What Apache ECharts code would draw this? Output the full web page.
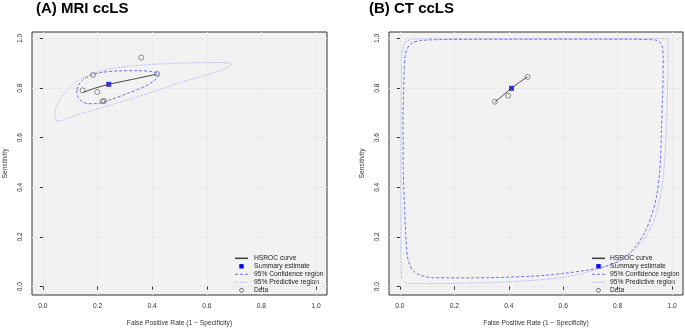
<!DOCTYPE html>
<html><head><meta charset="utf-8">
<script src="https://cdn.jsdelivr.net/npm/echarts@6/dist/echarts.min.js"></script>
<style>html,body{margin:0;padding:0;background:#fff}#c{width:685px;height:332px}</style>
</head><body><div id="c"></div>
<script>
const tickValues = [0, 0.2, 0.4, 0.6, 0.8, 1.0];
const panelTitles = ['(A) MRI ccLS', '(B) CT ccLS'];
const xAxisName = 'False Positive Rate (1 \u2212 Specificity)';
const yAxisName = 'Sensitivity';
const legendLabels = ['HSROC curve', 'Summary estimate', '95% Confidence region', '95% Predictive region', 'Data'];

// Panel A: MRI ccLS  [FPR, sensitivity]
const mriData = [[0.360,0.923],[0.183,0.853],[0.418,0.857],[0.145,0.791],[0.199,0.784],[0.218,0.747],[0.224,0.748]];
const mriSummary = [[0.241,0.815]];
const mriCurve = [[0.148,0.783],[0.189,0.799],[0.241,0.815],[0.323,0.834],[0.418,0.856]];
const mriConf = [[0.124,0.792],[0.130,0.812],[0.145,0.832],[0.177,0.852],[0.214,0.863],[0.274,0.869],[0.347,0.870],[0.396,0.867],[0.418,0.861],[0.423,0.852],[0.409,0.832],[0.372,0.806],[0.311,0.779],[0.250,0.754],[0.201,0.738],[0.165,0.737],[0.138,0.750],[0.126,0.770],[0.124,0.792]];
const mriPred = [[0.052,0.668],[0.044,0.685],[0.046,0.712],[0.061,0.752],[0.092,0.795],[0.128,0.830],[0.189,0.860],[0.250,0.878],[0.323,0.889],[0.409,0.896],[0.494,0.900],[0.573,0.902],[0.640,0.903],[0.680,0.901],[0.690,0.893],[0.670,0.880],[0.646,0.870],[0.573,0.845],[0.494,0.819],[0.409,0.787],[0.311,0.753],[0.226,0.725],[0.153,0.701],[0.092,0.680],[0.062,0.668],[0.052,0.668]];

// Panel B: CT ccLS
const ctData = [[0.349,0.745],[0.398,0.769],[0.469,0.845]];
const ctSummary = [[0.410,0.799]];
const ctCurve = [[0.349,0.743],[0.380,0.772],[0.410,0.799],[0.440,0.824],[0.469,0.845]];
const ctConf = [[0.016,0.880],[0.020,0.935],[0.030,0.965],[0.045,0.982],[0.080,0.992],[0.190,0.996],[0.500,0.997],[0.850,0.997],[0.935,0.994],[0.955,0.985],[0.964,0.965],[0.967,0.930],[0.967,0.850],[0.964,0.750],[0.961,0.632],[0.955,0.472],[0.943,0.365],[0.924,0.285],[0.900,0.219],[0.869,0.165],[0.820,0.112],[0.759,0.083],[0.700,0.068],[0.600,0.053],[0.533,0.045],[0.398,0.038],[0.250,0.035],[0.116,0.036],[0.075,0.046],[0.050,0.062],[0.037,0.085],[0.028,0.120],[0.022,0.200],[0.016,0.350],[0.012,0.500],[0.012,0.700],[0.014,0.800],[0.016,0.880]];
const ctPred = [[0.006,0.900],[0.009,0.950],[0.016,0.978],[0.030,0.992],[0.070,0.998],[0.300,0.999],[0.700,0.999],[0.985,0.999],[0.985,0.950],[0.984,0.850],[0.982,0.750],[0.979,0.632],[0.970,0.472],[0.957,0.365],[0.935,0.272],[0.905,0.205],[0.860,0.145],[0.800,0.100],[0.720,0.068],[0.640,0.045],[0.533,0.029],[0.398,0.019],[0.200,0.013],[0.040,0.012],[0.020,0.016],[0.010,0.026],[0.006,0.050],[0.004,0.150],[0.004,0.400],[0.005,0.700],[0.006,0.900]];

const FONT = '"Liberation Sans", Arial, Helvetica, sans-serif';
const COL_CURVE = '#444444', COL_SUM = '#0000ff', COL_CONF = '#6f6ff2', COL_PRED = '#a0a0ff', COL_DATA = '#555555';
const DASH_CONF = [3, 2], DASH_PRED = [1, 1.5];
const GRID_LINE = { type: 'dotted', color: '#e3e3e3', width: 1 };

function xAxisCfg(i) {
  return {
    type: 'value', gridIndex: i, min: -0.04, max: 1.04,
    axisLine: { show: false },
    axisTick: { show: true, length: 3, customValues: tickValues, lineStyle: { color: '#333' } },
    axisLabel: { customValues: tickValues, formatter: v => v.toFixed(1), fontSize: 6.7, fontFamily: FONT, color: '#333', margin: 8 },
    splitLine: { show: true, lineStyle: GRID_LINE },
    name: xAxisName, nameLocation: 'middle', nameGap: 25,
    nameTextStyle: { fontSize: 6.7, fontFamily: FONT, color: '#333' }
  };
}
function yAxisCfg(i) {
  return {
    type: 'value', gridIndex: i, min: -0.034, max: 1.026,
    axisLine: { show: false },
    axisTick: { show: true, length: 3, customValues: tickValues, lineStyle: { color: '#333' } },
    axisLabel: { customValues: tickValues, formatter: v => v.toFixed(1), rotate: 90, fontSize: 6.7, fontFamily: FONT, color: '#333', margin: 8 },
    splitLine: { show: true, lineStyle: GRID_LINE },
    name: yAxisName, nameLocation: 'middle', nameGap: 23, nameRotate: 90,
    nameTextStyle: { fontSize: 6.7, fontFamily: FONT, color: '#333' }
  };
}
function panelSeries(i, pred, conf, curve, summary, data) {
  const base = { xAxisIndex: i, yAxisIndex: i, silent: true, animation: false };
  return [
    Object.assign({ type: 'line', name: legendLabels[3], data: pred, symbol: 'none', smooth: 0.3,
      lineStyle: { color: COL_PRED, width: 1, type: DASH_PRED } }, base),
    Object.assign({ type: 'line', name: legendLabels[2], data: conf, symbol: 'none', smooth: 0.3,
      lineStyle: { color: COL_CONF, width: 1, type: DASH_CONF } }, base),
    Object.assign({ type: 'line', name: legendLabels[0], data: curve, symbol: 'none', smooth: 0.3,
      lineStyle: { color: COL_CURVE, width: 1 } }, base),
    Object.assign({ type: 'scatter', name: legendLabels[4], data: data, symbol: 'circle', symbolSize: 5,
      itemStyle: { color: 'rgba(0,0,0,0)', borderColor: COL_DATA, borderWidth: 0.8 } }, base),
    Object.assign({ type: 'scatter', name: legendLabels[1], data: summary, symbol: 'rect', symbolSize: 5,
      itemStyle: { color: COL_SUM } }, base)
  ];
}
function legendGraphics(iconX0, textX, rowY0) {
  const g = [];
  const w = 13, cx = iconX0 + w / 2;
  const rows = legendLabels.map((_, k) => rowY0 + 8 * k);
  g.push({ type: 'line', shape: { x1: iconX0, y1: rows[0], x2: iconX0 + w, y2: rows[0] }, style: { stroke: COL_CURVE, lineWidth: 1.6 }, silent: true });
  g.push({ type: 'rect', shape: { x: cx - 2.2, y: rows[1] - 2.2, width: 4.4, height: 4.4 }, style: { fill: COL_SUM }, silent: true });
  g.push({ type: 'line', shape: { x1: iconX0, y1: rows[2], x2: iconX0 + w, y2: rows[2] }, style: { stroke: COL_CONF, lineWidth: 1, lineDash: DASH_CONF }, silent: true });
  g.push({ type: 'line', shape: { x1: iconX0, y1: rows[3], x2: iconX0 + w, y2: rows[3] }, style: { stroke: COL_PRED, lineWidth: 1, lineDash: DASH_PRED }, silent: true });
  g.push({ type: 'circle', shape: { cx: cx, cy: rows[4], r: 2 }, style: { fill: 'none', stroke: COL_DATA, lineWidth: 0.8 }, silent: true });
  legendLabels.forEach((t, k) => g.push({ type: 'text', x: textX, y: rows[k], silent: true,
    style: { text: t, fontSize: 6.7, fontFamily: FONT, fill: '#222', verticalAlign: 'middle', align: 'left' } }));
  return g;
}

const chart = echarts.init(document.getElementById('c'), null, { renderer: 'canvas' });
chart.setOption({
  animation: false,
  backgroundColor: '#ffffff',
  title: [
    { text: panelTitles[0], left: 36, top: 1, padding: 0, textStyle: { fontSize: 15, fontWeight: 'bold', fontFamily: FONT, color: '#000' } },
    { text: panelTitles[1], left: 369, top: 1, padding: 0, textStyle: { fontSize: 15, fontWeight: 'bold', fontFamily: FONT, color: '#000' } }
  ],
  grid: [
    { left: 32, top: 32, width: 295, height: 265, show: true, backgroundColor: '#f2f2f2', borderColor: '#333', borderWidth: 1 },
    { left: 389, top: 32, width: 294, height: 265, show: true, backgroundColor: '#f2f2f2', borderColor: '#333', borderWidth: 1 }
  ],
  xAxis: [xAxisCfg(0), xAxisCfg(1)],
  yAxis: [yAxisCfg(0), yAxisCfg(1)],
  series: [].concat(
    panelSeries(0, mriPred, mriConf, mriCurve, mriSummary, mriData),
    panelSeries(1, ctPred, ctConf, ctCurve, ctSummary, ctData)
  ),
  graphic: [].concat(legendGraphics(235, 254, 258.3), legendGraphics(592, 610, 258.3))
});
</script>
</body></html>
